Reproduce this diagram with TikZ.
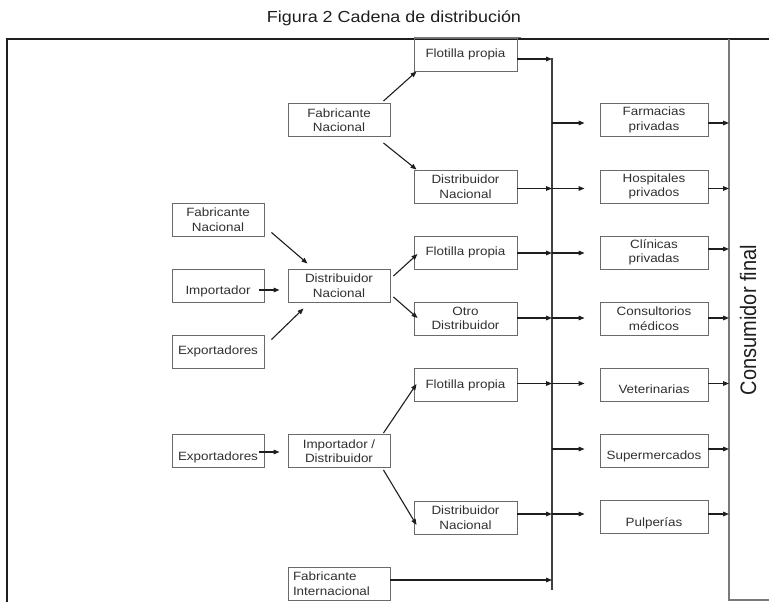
\documentclass[tikz,border=0pt]{standalone}
\usepackage{fontspec}
\setmainfont{Liberation Sans}[FakeStretch=1.12]
\newfontfamily\upsans{Liberation Sans}
\usetikzlibrary{arrows.meta,calc}
\definecolor{ink}{HTML}{1E1E1E}
\definecolor{boxgray}{HTML}{6A6A6A}
\definecolor{txt}{HTML}{303030}
\definecolor{railgray}{HTML}{7A7A7A}
\definecolor{edgeblue}{HTML}{4A86C5}
\newcommand\bxfont{\fontsize{12}{14.5}\selectfont}
\newcommand\lowtxt[2]{\raisebox{-#1pt}[0pt][0pt]{#2}}
\begin{document}
\begin{tikzpicture}[x=1pt,y=-1pt,
  box/.style={draw=boxgray, line width=0.9pt, minimum height=33pt,
    inner sep=0pt, align=center, font=\bxfont, text=txt},
  lbox/.style={box, minimum width=92pt},
  mbox/.style={box, minimum width=102pt},
  cbox/.style={box, minimum width=103pt},
  rbox/.style={box, minimum width=108pt},
  arr/.style={draw=ink, line width=1.1pt, -{Triangle[length=6pt,width=4.6pt]}},
  frame/.style={draw=ink, line width=1.8pt},
  rail/.style={draw=railgray, line width=1.8pt},
  bus/.style={draw=ink!85, line width=1.3pt}]
\useasboundingbox (0,0) rectangle (769,602);

% title
\node[font=\fontsize{16}{18}\selectfont, text=ink] (title) at (394,18) {Figura 2 Cadena de distribución};

% outer frame and the consumer rail
\coordinate (ftl) at (7,39);
\coordinate (ftr) at (769,39);
\coordinate (fbl) at (7,602);
\draw[frame] (fbl) -- (ftl) -- (ftr);
\coordinate (ct) at (729,39);
\coordinate (cb) at (729,600);
\coordinate (ce) at (769,600);
\draw[rail] (ct) -- (cb) -- (ce);
\node[text=ink] (cf) at (748,320) {\rotatebox{90}{\scalebox{1}[1.12]{\upsans\fontsize{20}{22}\selectfont Consumidor final}}};

% supply boxes
\node[cbox] (fl1) at (465.5,54.5) {Flotilla propia};
\node[mbox] (fn1) at (339,120) {Fabricante\\Nacional};
\node[cbox] (dn1) at (465.5,186.5) {Distribuidor\\Nacional};
\node[lbox] (fn2) at (218,219.5) {Fabricante\\Nacional};
\node[lbox] (imp) at (218,285.5) {\lowtxt{8.5}{Importador}};
\node[lbox] (ex1) at (218,351.5) {Exportadores};
\node[mbox] (dn2) at (339,285.5) {Distribuidor\\Nacional};
\node[cbox] (fl2) at (465.5,252.5) {Flotilla propia};
\node[cbox] (otro) at (465.5,318.5) {Otro\\Distribuidor};
\node[cbox] (fl3) at (465.5,385) {Flotilla propia};
\node[lbox] (ex2) at (218,451) {\lowtxt{9}{Exportadores}};
\node[mbox] (idi) at (339,451) {Importador /\\Distribuidor};
\node[cbox] (dn3) at (465.5,517.5) {Distribuidor\\Nacional};
\node[box, text width=92pt, inner xsep=5pt, align=left] (fin) at (339,583.5) {Fabricante\\Internacional};

% retail boxes
\node[rbox] (farm) at (654,120) {Farmacias\\privadas};
\node[rbox] (hosp) at (654,186.5) {Hospitales\\privados};
\node[rbox] (clin) at (654,252.5) {Clínicas\\privadas};
\node[rbox] (cons) at (654,318.5) {Consultorios\\médicos};
\node[rbox] (vet) at (654,385) {\lowtxt{8}{Veterinarias}};
\node[rbox] (sup) at (654,451) {\lowtxt{8}{Supermercados}};
\node[rbox] (pul) at (654,516.5) {\lowtxt{9.5}{Pulperías}};

% blue top edge of the first box
\draw[edgeblue, line width=1pt] (fl1.north west) -- ([xshift=4pt]fl1.north east);

% collecting bus
\coordinate (bt) at (552,58);
\coordinate (bb) at (552,590);
\draw[bus] (bt) -- (bb);
\coordinate (b1) at (552,59);
\coordinate (b2) at (552,123);
\coordinate (b3) at (552,188.5);
\coordinate (b4) at (552,253);
\coordinate (b5) at (552,318);
\coordinate (b6) at (552,383.5);
\coordinate (b7) at (552,449);
\coordinate (b8) at (552,514);
\coordinate (b9) at (552,580);

% branches feeding the boxes on the left
\draw[arr] ($(fn1.north east)+(-7,-2)$) -- ($(fl1.south west)+(3,0)$);
\draw[arr] ($(fn1.south east)+(-7,6)$) -- ($(dn1.north west)+(3,0)$);
\draw[arr] ($(fn2.south east)+(7,-4)$) -- ($(dn2.north west)+(20,-5)$);
\draw[arr] ($(imp.east)+(-5,4.5)$) -- ($(dn2.west)+(-8,4.5)$);
\draw[arr] ($(ex1.north east)+(7,5)$) -- ($(dn2.south west)+(16,6)$);
\draw[arr] ($(dn2.east)+(3,-9.5)$) -- ($(fl2.west)+(4,1.5)$);
\draw[arr] ($(dn2.east)+(3,11.5)$) -- ($(otro.west)+(4,-0.5)$);
\draw[arr] ($(ex2.east)+(-5,1)$) -- ($(idi.west)+(-8,1)$);
\draw[arr] ($(idi.north east)+(-7,-1)$) -- ($(fl3.west)+(3,-1)$);
\draw[arr] ($(idi.south east)+(-7,2)$) -- ($(dn3.west)+(3,7.5)$);

% into the bus
\draw[arr] (fl1.east |- b1) -- (b1);
\draw[arr] (dn1.east |- b3) -- (b3);
\draw[arr] (fl2.east |- b4) -- (b4);
\draw[arr] (otro.east |- b5) -- (b5);
\draw[arr] (fl3.east |- b6) -- (b6);
\draw[arr] (dn3.east |- b8) -- (b8);
\draw[arr] (fin.east |- b9) -- (b9);

% out of the bus
\draw[arr, shorten >=15pt] (b2) -- (farm.west |- b2);
\draw[arr, shorten >=15pt] (b3) -- (hosp.west |- b3);
\draw[arr, shorten >=15pt] (b4) -- (clin.west |- b4);
\draw[arr, shorten >=15pt] (b5) -- (cons.west |- b5);
\draw[arr, shorten >=15pt] (b6) -- (vet.west |- b6);
\draw[arr, shorten >=15pt] (b7) -- (sup.west |- b7);
\draw[arr, shorten >=15pt] (b8) -- (pul.west |- b8);

% to the final consumer
\draw[arr] (farm.east |- b2) -- (b2 -| ct);
\draw[arr] (hosp.east |- b3) -- (b3 -| ct);
\draw[arr] ($(clin.east)+(0,-3.5)$) -- ($(clin.east -| ct)+(0,-3.5)$);
\draw[arr] (cons.east |- b5) -- (b5 -| ct);
\draw[arr] (vet.east |- b6) -- (b6 -| ct);
\draw[arr] (sup.east |- b7) -- (b7 -| ct);
\draw[arr] (pul.east |- b8) -- (b8 -| ct);
\end{tikzpicture}
\end{document}
